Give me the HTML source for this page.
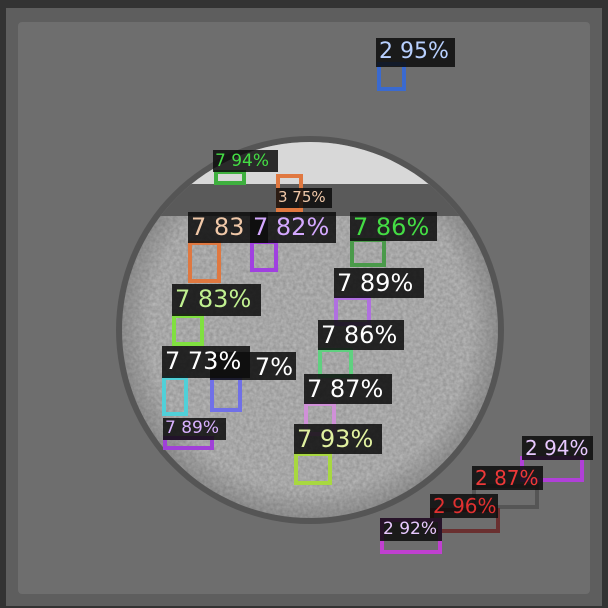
<!DOCTYPE html>
<html><head><meta charset="utf-8"><style>
html,body{margin:0;padding:0;width:608px;height:608px;overflow:hidden;background:#2a2a2a;font-family:"DejaVu Sans","Liberation Sans",sans-serif}
.box{position:absolute;border:4px solid;box-sizing:border-box}
.lab{position:absolute;background:rgba(12,12,12,0.85);white-space:nowrap;line-height:1;padding:3px 3px 0 3px;box-sizing:border-box;overflow:hidden}
</style></head><body>
<svg width="608" height="608" style="position:absolute;left:0;top:0">
<defs>
<filter id="noise"><feTurbulence type="fractalNoise" baseFrequency="0.3" numOctaves="2" seed="3"/><feColorMatrix values="0 0 0 0 0.1 0 0 0 0 0.1 0 0 0 0 0.1 0 0 0 0.45 0"/></filter>
<radialGradient id="disc" cx="0.5" cy="0.5" r="0.5"><stop offset="0.85" stop-color="#bdbdbd"/><stop offset="1" stop-color="#999"/></radialGradient>
<clipPath id="cc"><circle cx="310" cy="330" r="188"/></clipPath>
</defs>
<rect x="0" y="0" width="608" height="608" fill="#333"/>
<rect x="6" y="8" width="596" height="598" fill="#5e5e5e"/>
<rect x="18" y="22" width="572" height="572" fill="#6e6e6e" rx="4"/>
<circle cx="310" cy="330" r="194" fill="#555"/>
<circle cx="310" cy="330" r="188" fill="url(#disc)"/>
<g clip-path="url(#cc)">
<rect x="100" y="140" width="420" height="400" filter="url(#noise)"/>
<rect x="100" y="140" width="420" height="45" fill="#d8d8d8"/>
<rect x="100" y="184" width="420" height="32" fill="#5a5a5a"/>
</g>
</svg>

<div class="box" style="left:377px;top:62px;width:29px;height:29px;border-color:#3a6ad0"></div>
<div class="lab" style="left:376px;top:38px;width:79px;height:29px;font-size:22px;color:#b8d0ff">2 95%</div>

<div class="box" style="left:214px;top:170px;width:32px;height:15px;border-color:#3fb03f"></div>
<div class="lab" style="left:213px;top:150px;width:65px;height:22px;font-size:17px;color:#44dd44;padding-left:2px">7 94%</div>

<div class="box" style="left:276px;top:174px;width:27px;height:38px;border-color:#e07840"></div>
<div class="lab" style="left:276px;top:188px;width:56px;height:20px;font-size:15px;color:#f0c8a8;padding:2px 2px 0 2px">3 75%</div>

<div class="box" style="left:188px;top:241px;width:33px;height:42px;border-color:#e07840"></div>
<div class="box" style="left:250px;top:240px;width:28px;height:32px;border-color:#a040e0"></div>
<div class="lab" style="left:188px;top:212px;width:80px;height:31px;font-size:24px;color:#f0c8a8">7 83</div>
<div class="lab" style="left:250px;top:212px;width:86px;height:31px;font-size:24px;color:#d4a8ff">7 82%</div>

<div class="box" style="left:350px;top:238px;width:36px;height:29px;border-color:#4a9a4a"></div>
<div class="lab" style="left:350px;top:212px;width:87px;height:29px;font-size:24px;color:#44dd44">7 86%</div>

<div class="box" style="left:334px;top:296px;width:37px;height:30px;border-color:#b070e0"></div>
<div class="lab" style="left:334px;top:268px;width:90px;height:30px;font-size:24px;color:#ffffff">7 89%</div>

<div class="box" style="left:172px;top:314px;width:32px;height:32px;border-color:#80e040"></div>
<div class="lab" style="left:172px;top:284px;width:89px;height:32px;font-size:24px;color:#c0f090">7 83%</div>

<div class="box" style="left:318px;top:348px;width:35px;height:30px;border-color:#60d080"></div>
<div class="lab" style="left:318px;top:320px;width:86px;height:30px;font-size:24px;color:#ffffff">7 86%</div>

<div class="box" style="left:210px;top:376px;width:32px;height:36px;border-color:#7070e8"></div>
<div class="lab" style="left:210px;top:352px;width:86px;height:28px;font-size:24px;color:#ffffff;text-align:right">7%</div>
<div class="box" style="left:162px;top:376px;width:26px;height:40px;border-color:#50d0d8"></div>
<div class="lab" style="left:162px;top:346px;width:88px;height:32px;font-size:24px;color:#ffffff">7 73%</div>

<div class="box" style="left:304px;top:402px;width:32px;height:34px;border-color:#d090d8"></div>
<div class="lab" style="left:304px;top:374px;width:88px;height:30px;font-size:24px;color:#ffffff">7 87%</div>

<div class="box" style="left:163px;top:436px;width:51px;height:14px;border-color:#a040d8"></div>
<div class="lab" style="left:163px;top:418px;width:63px;height:22px;font-size:17px;color:#d8b0ff;padding:2px 2px 0 2px">7 89%</div>

<div class="box" style="left:294px;top:452px;width:38px;height:33px;border-color:#a8d840"></div>
<div class="lab" style="left:294px;top:424px;width:88px;height:30px;font-size:24px;color:#e0f0a0">7 93%</div>

<div class="box" style="left:520px;top:456px;width:64px;height:26px;border-color:#b040d8"></div>
<div class="lab" style="left:522px;top:436px;width:71px;height:24px;font-size:20px;color:#e8c8ff;padding-top:2px">2 94%</div>

<div class="box" style="left:472px;top:484px;width:67px;height:25px;border-color:#555555"></div>
<div class="lab" style="left:472px;top:466px;width:71px;height:24px;font-size:20px;color:#ee3838;padding-top:2px">2 87%</div>

<div class="box" style="left:430px;top:508px;width:70px;height:25px;border-color:#6a3030"></div>
<div class="lab" style="left:430px;top:494px;width:68px;height:24px;font-size:20px;color:#e03030;padding-top:2px">2 96%</div>

<div class="box" style="left:380px;top:518px;width:62px;height:36px;border-color:#c040d0"></div>
<div class="lab" style="left:380px;top:518px;width:62px;height:23px;font-size:17px;color:#e8c8ff;padding-top:3px">2 92%</div>
</body></html>
